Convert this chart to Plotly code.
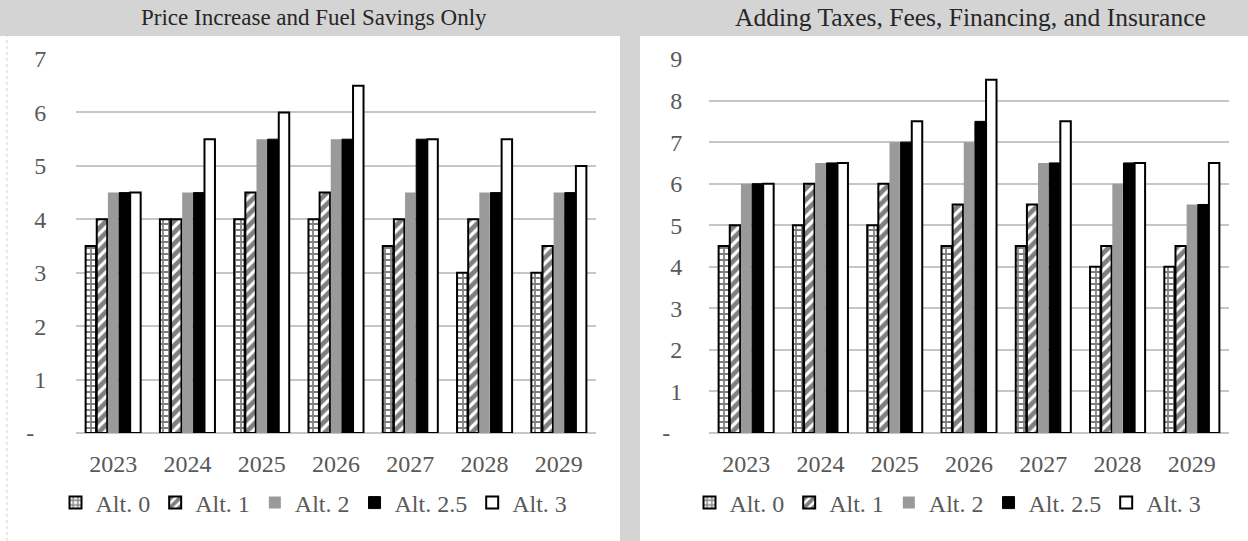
import plotly.graph_objects as go

years = ["2023", "2024", "2025", "2026", "2027", "2028", "2029"]
series_names = ["Alt. 0", "Alt. 1", "Alt. 2", "Alt. 2.5", "Alt. 3"]

left_alt0 = [3.5, 4, 4, 4, 3.5, 3, 3]
left_alt1 = [4, 4, 4.5, 4.5, 4, 4, 3.5]
left_alt2 = [4.5, 4.5, 5.5, 5.5, 4.5, 4.5, 4.5]
left_alt25 = [4.5, 4.5, 5.5, 5.5, 5.5, 4.5, 4.5]
left_alt3 = [4.5, 5.5, 6, 6.5, 5.5, 5.5, 5]

right_alt0 = [4.5, 5, 5, 4.5, 4.5, 4, 4]
right_alt1 = [5, 6, 6, 5.5, 5.5, 4.5, 4.5]
right_alt2 = [6, 6.5, 7, 7, 6.5, 6, 5.5]
right_alt25 = [6, 6.5, 7, 7.5, 6.5, 6.5, 5.5]
right_alt3 = [6, 6.5, 7.5, 8.5, 7.5, 6.5, 6.5]

left_title = "Price Increase and Fuel Savings Only"
right_title = "Adding Taxes, Fees, Financing, and Insurance"

left_ticks = [0, 1, 2, 3, 4, 5, 6, 7]
right_ticks = [0, 1, 2, 3, 4, 5, 6, 7, 8, 9]

W, H = 1248, 541
FONT = "Liberation Serif"
TXT = "#595959"

styles = [
    dict(marker=dict(color="white", line=dict(color="black", width=2),
                     pattern=dict(shape="+", fgcolor="black", bgcolor="white", size=6, solidity=0.5))),
    dict(marker=dict(color="white", line=dict(color="black", width=2),
                     pattern=dict(shape="/", fgcolor="black", bgcolor="white", size=8, solidity=0.6))),
    dict(marker=dict(color="#9a9a9a", line=dict(color="#9a9a9a", width=0))),
    dict(marker=dict(color="black", line=dict(color="black", width=1))),
    dict(marker=dict(color="white", line=dict(color="black", width=2))),
]

fig = go.Figure()
left_data = [left_alt0, left_alt1, left_alt2, left_alt25, left_alt3]
right_data = [right_alt0, right_alt1, right_alt2, right_alt25, right_alt3]
for name, vals, st in zip(series_names, left_data, styles):
    fig.add_trace(go.Bar(x=years, y=vals, name=name, xaxis="x", yaxis="y",
                         legend="legend", **st))
for name, vals, st in zip(series_names, right_data, styles):
    fig.add_trace(go.Bar(x=years, y=vals, name=name, xaxis="x2", yaxis="y2",
                         legend="legend2", **st))

def px(x):
    return x / W

def py(y):
    return 1 - y / H

ydom = [py(433), py(59)]
common_x = dict(type="category", showgrid=False, zeroline=False, showline=False,
                ticks="outside", ticklen=9, tickcolor="rgba(0,0,0,0)", automargin=False,
                tickfont=dict(family=FONT, size=24, color=TXT))
common_y = dict(showgrid=True, gridcolor="#c6c6c6", gridwidth=1.5,
                zeroline=True, zerolinecolor="#c6c6c6", zerolinewidth=1.5,
                showline=False, ticks="outside", tickcolor="rgba(0,0,0,0)",
                automargin=False,
                tickfont=dict(family=FONT, size=24, color=TXT), fixedrange=True)

def ticktext(ticks):
    return ["-\u00a0\u00a0" if t == 0 else str(t) for t in ticks]

legend_common = dict(orientation="h", xanchor="center", yanchor="middle",
                     xref="paper", yref="paper", bgcolor="rgba(0,0,0,0)",
                     font=dict(family=FONT, size=24, color=TXT),
                     itemwidth=30, traceorder="normal", itemclick=False, itemdoubleclick=False)

fig.update_layout(
    width=W, height=H,
    margin=dict(l=0, r=0, t=0, b=0, pad=0, autoexpand=False),
    paper_bgcolor="#d4d4d4",
    plot_bgcolor="white",
    barmode="group", bargap=0.25, bargroupgap=0.06,
    font=dict(family=FONT, color=TXT),
    xaxis=dict(domain=[px(76), px(596)], anchor="y", **common_x),
    yaxis=dict(domain=ydom, anchor="x", range=[0, 7.001], tickvals=left_ticks,
               ticktext=ticktext(left_ticks), ticklen=24, **common_y),
    xaxis2=dict(domain=[px(709), px(1229)], anchor="y2", **common_x),
    yaxis2=dict(domain=ydom, anchor="x2", range=[0, 9.001], tickvals=right_ticks,
                ticktext=ticktext(right_ticks), ticklen=21, **common_y),
    legend=dict(x=px(314), y=py(503), **legend_common),
    legend2=dict(x=px(948), y=py(503), **legend_common),
    shapes=[
        dict(type="rect", xref="paper", yref="paper", x0=0, x1=px(620), y0=0, y1=py(36),
             fillcolor="white", line=dict(width=0), layer="below"),
        dict(type="rect", xref="paper", yref="paper", x0=px(640), x1=1, y0=0, y1=py(36),
             fillcolor="white", line=dict(width=0), layer="below"),
        dict(type="line", xref="paper", yref="paper", x0=px(7), x1=px(7), y0=0, y1=py(36),
             line=dict(color="#cfcfcf", width=1, dash="dot"), layer="below"),
    ],
    annotations=[
        dict(text=left_title, xref="paper", yref="paper", x=px(314), y=py(18),
             xanchor="center", yanchor="middle", showarrow=False,
             font=dict(family=FONT, size=23, color="#262626")),
        dict(text=right_title, xref="paper", yref="paper", x=px(970), y=py(18),
             xanchor="center", yanchor="middle", showarrow=False,
             font=dict(family=FONT, size=25.5, color="#262626")),
    ],
    showlegend=True,
)

fig.write_html(
    "out.html",
    config={"displayModeBar": False},
    post_script="document.body.style.margin='0';document.body.style.overflow='hidden';",
)
